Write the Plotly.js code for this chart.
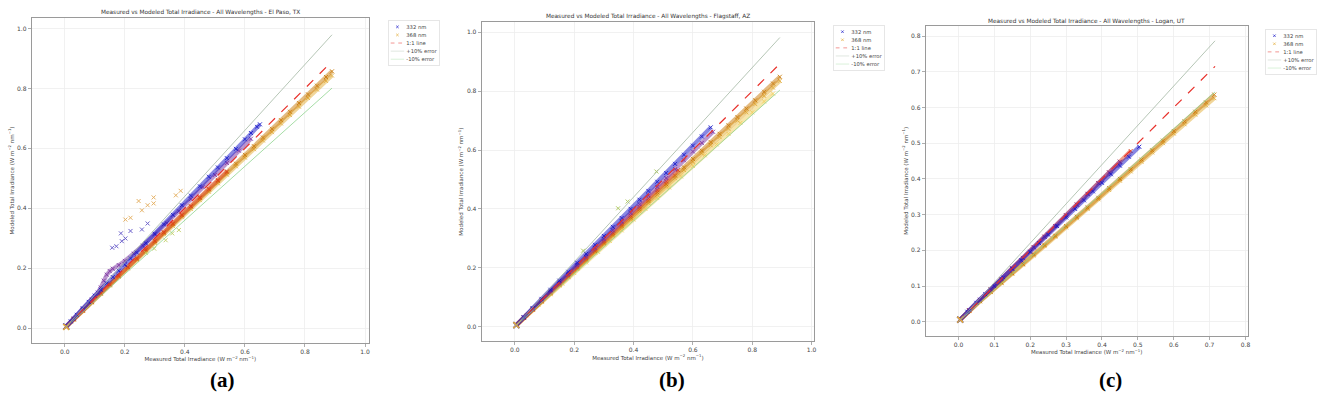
<!DOCTYPE html>
<html>
<head>
<meta charset="utf-8">
<script src="https://cdn.plot.ly/plotly-3.0.1.min.js"></script>
<style>html,body{margin:0;padding:0;background:#fff;}#chart{width:1321px;height:402px;}</style>
</head>
<body>
<div id="chart"></div>
<script>
// ---------------- Data ----------------
const panelTitles = [
  "Measured vs Modeled Total Irradiance - All Wavelengths - El Paso, TX",
  "Measured vs Modeled Total Irradiance - All Wavelengths - Flagstaff, AZ",
  "Measured vs Modeled Total Irradiance - All Wavelengths - Logan, UT"
];
const panelLabels = ["(a)", "(b)", "(c)"];
const seriesNames = ["332 nm", "340 nm", "350 nm", "360 nm", "368 nm"];
const lineNames = ["1:1 line", "+10% error", "-10% error"];

// Panel (a) El Paso
const A_x332 = [0.005,0.02,0.04,0.06,0.08,0.10,0.12,0.14,0.16,0.18,0.20,0.22,0.24,0.27,0.30,0.33,0.36,0.39,0.42,0.45,0.48,0.51,0.54,0.57,0.60,0.62,0.64,0.65];
const A_y332 = [0.005,0.022,0.044,0.066,0.087,0.108,0.128,0.149,0.170,0.191,0.211,0.232,0.252,0.283,0.315,0.346,0.378,0.410,0.442,0.473,0.505,0.536,0.567,0.598,0.630,0.651,0.672,0.680];
const A_x340 = [0.005,0.03,0.06,0.09,0.11,0.12,0.13,0.14,0.15,0.16,0.18,0.20,0.23,0.26,0.30,0.34,0.38,0.42,0.46,0.50,0.54,0.58,0.62];
const A_y340 = [0.005,0.032,0.063,0.095,0.118,0.135,0.158,0.178,0.190,0.198,0.210,0.224,0.248,0.275,0.312,0.350,0.390,0.430,0.470,0.511,0.551,0.592,0.632];
const A_x350 = [0.005,0.03,0.06,0.09,0.12,0.15,0.18,0.21,0.24,0.27,0.30,0.33,0.36,0.39,0.42,0.45,0.48,0.51,0.54];
const A_y350 = [0.005,0.030,0.059,0.088,0.117,0.146,0.175,0.204,0.233,0.262,0.291,0.320,0.349,0.378,0.407,0.436,0.465,0.494,0.523];
const A_x360 = [0.005,0.03,0.06,0.09,0.12,0.15,0.18,0.21,0.24,0.27,0.30,0.33,0.36,0.39,0.42,0.45,0.48,0.51,0.54,0.57,0.60,0.63,0.66,0.69,0.72,0.75,0.78,0.81,0.84,0.87,0.89];
const A_y360 = [0.005,0.029,0.058,0.087,0.116,0.145,0.174,0.203,0.231,0.260,0.289,0.318,0.347,0.376,0.405,0.434,0.462,0.491,0.520,0.549,0.578,0.607,0.636,0.665,0.694,0.722,0.751,0.780,0.809,0.838,0.857];
const A_x368 = [0.005,0.03,0.06,0.09,0.12,0.15,0.18,0.21,0.24,0.27,0.30,0.33,0.36,0.39,0.42,0.45,0.48,0.51,0.54,0.57,0.60,0.63,0.66,0.69,0.72,0.75,0.78,0.81,0.84,0.87,0.89];
const A_y368 = [0.004,0.028,0.057,0.085,0.114,0.142,0.171,0.199,0.227,0.256,0.284,0.313,0.341,0.370,0.398,0.427,0.455,0.483,0.512,0.540,0.569,0.597,0.626,0.654,0.683,0.711,0.739,0.768,0.796,0.825,0.843];
const A_outBlueX = [0.158,0.172,0.187,0.190,0.202,0.219,0.257,0.276];
const A_outBlueY = [0.268,0.273,0.316,0.290,0.299,0.324,0.329,0.349];
const A_outOrangeX = [0.202,0.219,0.246,0.257,0.276,0.296,0.296,0.370,0.386];
const A_outOrangeY = [0.362,0.368,0.424,0.393,0.410,0.416,0.436,0.443,0.458];
const A_outYellowX = [0.270,0.298,0.336,0.358,0.380];
const A_outYellowY = [0.251,0.265,0.293,0.316,0.327];
const A_refX = [0.0, 0.89];

// Panel (b) Flagstaff
const B_x332 = [0.005,0.03,0.06,0.09,0.12,0.15,0.18,0.21,0.24,0.27,0.30,0.33,0.36,0.39,0.42,0.45,0.48,0.51,0.54,0.57,0.60,0.63,0.66];
const B_y332 = [0.005,0.032,0.063,0.094,0.125,0.156,0.186,0.217,0.247,0.278,0.308,0.339,0.369,0.400,0.431,0.461,0.492,0.522,0.553,0.584,0.615,0.646,0.677];
const B_x340 = [0.005,0.03,0.06,0.09,0.12,0.15,0.18,0.21,0.24,0.27,0.30,0.33,0.36,0.39,0.42,0.45,0.48,0.51,0.54,0.57,0.60,0.63,0.668];
const B_y340 = [0.005,0.031,0.061,0.091,0.121,0.150,0.179,0.209,0.238,0.268,0.297,0.327,0.356,0.386,0.416,0.446,0.475,0.505,0.535,0.565,0.595,0.624,0.662];
const B_x350 = [0.005,0.03,0.06,0.09,0.12,0.15,0.18,0.21,0.24,0.27,0.30,0.33,0.36,0.39,0.42,0.45,0.48,0.51,0.55];
const B_y350 = [0.005,0.030,0.059,0.088,0.117,0.146,0.175,0.204,0.233,0.262,0.290,0.319,0.348,0.377,0.406,0.435,0.464,0.493,0.532];
const B_x360 = [0.005,0.03,0.06,0.09,0.12,0.15,0.18,0.21,0.24,0.27,0.30,0.33,0.36,0.39,0.42,0.45,0.48,0.51,0.54,0.57,0.60,0.63,0.66,0.69,0.72,0.75,0.78,0.81,0.84,0.87,0.893];
const B_y360 = [0.005,0.030,0.058,0.086,0.115,0.143,0.171,0.200,0.228,0.257,0.285,0.313,0.342,0.370,0.399,0.427,0.456,0.484,0.513,0.541,0.570,0.598,0.627,0.655,0.684,0.712,0.741,0.769,0.798,0.826,0.849];
const B_x368 = [0.005,0.03,0.06,0.09,0.12,0.15,0.18,0.21,0.24,0.27,0.30,0.33,0.36,0.39,0.42,0.45,0.48,0.51,0.54,0.57,0.60,0.63,0.66,0.69,0.72,0.75,0.78,0.81,0.84,0.87,0.893];
const B_y368 = [0.005,0.029,0.057,0.084,0.112,0.140,0.168,0.196,0.224,0.252,0.280,0.308,0.336,0.364,0.392,0.420,0.448,0.476,0.504,0.532,0.560,0.588,0.616,0.644,0.672,0.700,0.728,0.756,0.784,0.812,0.835];
const B_xLight = [0.005,0.04,0.08,0.12,0.16,0.20,0.24,0.28,0.32,0.36,0.40,0.44,0.48,0.52,0.56,0.60,0.64,0.68,0.72,0.76,0.80,0.84,0.87];
const B_yLight = [0.005,0.038,0.074,0.110,0.146,0.182,0.218,0.254,0.291,0.327,0.364,0.400,0.437,0.473,0.510,0.546,0.582,0.619,0.655,0.692,0.728,0.765,0.792];
const B_outX = [0.230,0.348,0.380,0.477];
const B_outY = [0.258,0.402,0.425,0.527];
const B_refX = [0.0, 0.893];

// Panel (c) Logan
const C_x332 = [0.005,0.025,0.05,0.075,0.10,0.125,0.15,0.175,0.20,0.225,0.25,0.275,0.30,0.325,0.35,0.375,0.40,0.425,0.45,0.475,0.504];
const C_y332 = [0.006,0.028,0.053,0.077,0.100,0.124,0.148,0.172,0.196,0.220,0.244,0.268,0.292,0.316,0.340,0.365,0.389,0.413,0.437,0.462,0.490];
const C_x340 = [0.005,0.03,0.06,0.09,0.12,0.15,0.18,0.21,0.24,0.27,0.30,0.33,0.36,0.39,0.42,0.45];
const C_y340 = [0.006,0.033,0.062,0.091,0.120,0.150,0.179,0.209,0.238,0.268,0.298,0.328,0.358,0.388,0.418,0.448];
const C_x350 = [0.005,0.03,0.06,0.09,0.12,0.15,0.18,0.21,0.24,0.27,0.30,0.33,0.36,0.39,0.42,0.45,0.48];
const C_y350 = [0.006,0.032,0.061,0.090,0.119,0.149,0.178,0.208,0.238,0.268,0.298,0.328,0.358,0.388,0.418,0.448,0.478];
const C_x360 = [0.005,0.03,0.06,0.09,0.12,0.15,0.18,0.21,0.24,0.27,0.30,0.33,0.36,0.39,0.42,0.45,0.48,0.51,0.54,0.57,0.60,0.63,0.66,0.69,0.713];
const C_y360 = [0.006,0.031,0.058,0.084,0.110,0.136,0.162,0.189,0.215,0.241,0.268,0.294,0.320,0.347,0.374,0.400,0.427,0.454,0.480,0.507,0.534,0.561,0.588,0.614,0.636];
const C_x368 = [0.005,0.03,0.06,0.09,0.12,0.15,0.18,0.21,0.24,0.27,0.30,0.33,0.36,0.39,0.42,0.45,0.48,0.51,0.54,0.57,0.60,0.63,0.66,0.69,0.713];
const C_y368 = [0.006,0.030,0.057,0.083,0.108,0.134,0.160,0.186,0.212,0.238,0.264,0.290,0.316,0.343,0.369,0.395,0.421,0.448,0.474,0.500,0.527,0.553,0.580,0.606,0.626];
const C_refX = [0.0, 0.715];

// ---------------- Styling ----------------
const colors = {b332:'#1414c8', b340:'#7a2fa0', b350:'#e0401c', b360:'#c97a08', b368:'#e3ad3a', light:'#f0cd5a', outGreen:'#9fbf40'};
const FONT = 'DejaVu Sans, sans-serif';
const LEGEND_SCALE = 0.42;
const traces = [];

function band(x, y, color, ax, name, legendId, showLeg, sym) {
  const xa = 'x' + ax, ya = 'y' + ax;
  traces.push({type:'scatter', mode:'lines', x:x, y:y, xaxis:xa, yaxis:ya,
    line:{color:color, width:4.2}, opacity:0.5, showlegend:false, hoverinfo:'skip', legend:legendId});
  traces.push({type:'scatter', mode:'markers', x:x, y:y, xaxis:xa, yaxis:ya, name:name,
    marker:{color:color, size:4, symbol:sym || 'x-thin-open', line:{color:color, width:1}},
    opacity:0.85, showlegend:showLeg, legend:legendId});
}
function scatterOnly(x, y, color, ax, legendId) {
  traces.push({type:'scatter', mode:'markers', x:x, y:y, xaxis:'x'+ax, yaxis:'y'+ax,
    marker:{color:color, size:4, symbol:'x-thin-open', line:{color:color, width:1}},
    opacity:0.8, showlegend:false, legend:legendId});
}
function refLines(refX, ax, legendId) {
  const xa = 'x' + ax, ya = 'y' + ax;
  traces.push({type:'scatter', mode:'lines', x:refX, y:refX, xaxis:xa, yaxis:ya, name:lineNames[0],
    line:{color:'#e8302a', width:1.2, dash:'dash'}, legend:legendId, legendrank:3});
  traces.push({type:'scatter', mode:'lines', x:refX, y:refX.map(v=>v*1.1), xaxis:xa, yaxis:ya, name:lineNames[1],
    line:{color:'#a3b8a3', width:0.8}, legend:legendId, legendrank:4});
  traces.push({type:'scatter', mode:'lines', x:refX, y:refX.map(v=>v*0.9), xaxis:xa, yaxis:ya, name:lineNames[2],
    line:{color:'#8fd48f', width:0.8}, legend:legendId, legendrank:5});
}

// Panel a
band(A_x368, A_y368, colors.b368, '', seriesNames[4], 'legend', false);
band(A_x360, A_y360, colors.b360, '', seriesNames[3], 'legend', false);
band(A_x350, A_y350, colors.b350, '', seriesNames[2], 'legend', false);
band(A_x340, A_y340, colors.b340, '', seriesNames[1], 'legend', false);
band(A_x332, A_y332, colors.b332, '', seriesNames[0], 'legend', false);
scatterOnly(A_outBlueX, A_outBlueY, '#4a3cc0', '', 'legend');
scatterOnly(A_outOrangeX, A_outOrangeY, '#e0a040', '', 'legend');
scatterOnly(A_outYellowX, A_outYellowY, '#b8c850', '', 'legend');
// Panel b
band(B_xLight, B_yLight, colors.light, '2', 'light', 'legend2', false);
band(B_x368, B_y368, colors.b368, '2', seriesNames[4], 'legend2', false);
band(B_x360, B_y360, colors.b360, '2', seriesNames[3], 'legend2', false);
band(B_x350, B_y350, colors.b350, '2', seriesNames[2], 'legend2', false);
band(B_x340, B_y340, colors.b340, '2', seriesNames[1], 'legend2', false);
band(B_x332, B_y332, colors.b332, '2', seriesNames[0], 'legend2', false);
scatterOnly(B_outX, B_outY, colors.outGreen, '2', 'legend2');
// Panel c
band(C_x368, C_y368, colors.b368, '3', seriesNames[4], 'legend3', false);
band(C_x360, C_y360, colors.b360, '3', seriesNames[3], 'legend3', false);
band(C_x350, C_y350, colors.b350, '3', seriesNames[2], 'legend3', false);
band(C_x340, C_y340, colors.b340, '3', seriesNames[1], 'legend3', false);
band(C_x332, C_y332, colors.b332, '3', seriesNames[0], 'legend3', false);

// Legend entries (first and last wavelength), drawn from the same arrays
function legendMarker(x, y, color, ax, name, legendId, rank) {
  traces.push({type:'scatter', mode:'markers', x:[x[0]], y:[y[0]], xaxis:'x'+ax, yaxis:'y'+ax, name:name,
    marker:{color:color, size:6, symbol:'x-thin-open', line:{color:color, width:1.6}}, legend:legendId, legendrank:rank});
}
legendMarker(A_x332, A_y332, colors.b332, '', seriesNames[0], 'legend', 1);
legendMarker(A_x368, A_y368, colors.b368, '', seriesNames[4], 'legend', 2);
legendMarker(B_x332, B_y332, colors.b332, '2', seriesNames[0], 'legend2', 1);
legendMarker(B_x368, B_y368, colors.b368, '2', seriesNames[4], 'legend2', 2);
legendMarker(C_x332, C_y332, colors.b332, '3', seriesNames[0], 'legend3', 1);
legendMarker(C_x368, C_y368, colors.b368, '3', seriesNames[4], 'legend3', 2);

refLines(A_refX, '', 'legend');
refLines(B_refX, '2', 'legend2');
refLines(C_refX, '3', 'legend3');

const xTitle = 'Measured Total Irradiance (W m<sup>−2</sup> nm<sup>−1</sup>)';
const yTitle = 'Modeled Total Irradiance (W m<sup>−2</sup> nm<sup>−1</sup>)';

function axis(domain, range, dtick, anchor, title) {
  return {domain:domain, range:range, dtick:dtick, tick0:0, anchor:anchor, tickformat:'.1f',
    showline:true, mirror:true, linecolor:'#9a9a9a', linewidth:1,
    ticks:'outside', ticklen:3, tickcolor:'#9a9a9a', tickwidth:0.8,
    tickfont:{size:6, color:'#444', family:FONT},
    showgrid:true, gridcolor:'#ededed', gridwidth:0.8, zeroline:false,
    title:{text:title, font:{size:5.5, color:'#444', family:FONT}, standoff:2},
    automargin:false};
}

const legendBase = {bgcolor:'rgba(255,255,255,0.9)', bordercolor:'#d8d8d8', borderwidth:1.5,
  font:{size:12.5, color:'#444', family:FONT}, xanchor:'left', yanchor:'top', itemwidth:32, tracegroupgap:0};

const annFont = {family:FONT, size:5.8, color:'#333'};
const labelFont = {family:'Liberation Serif, serif', size:21, color:'#000'};
const layout = {
  width:1321, height:402, margin:{l:0, r:0, t:0, b:0, autoexpand:false},
  paper_bgcolor:'#fff', plot_bgcolor:'#fff', showlegend:true,
  xaxis: axis([0.0240,0.2793], [-0.11,1.013], 0.2, 'y', xTitle),
  yaxis: axis([0.1468,0.9552], [-0.05,1.035], 0.2, 'x', yTitle),
  xaxis2: axis([0.3646,0.6164], [-0.112,1.009], 0.2, 'y2', xTitle),
  yaxis2: axis([0.1517,0.9445], [-0.049,1.034], 0.2, 'x2', yTitle),
  xaxis3: axis([0.7008,0.9445], [-0.091,0.806], 0.1, 'y3', xTitle),
  yaxis3: axis([0.1649,0.9353], [-0.039,0.828], 0.1, 'x3', yTitle),
  legend: Object.assign({x:0.2937, y:0.950}, legendBase),
  legend2: Object.assign({x:0.6306, y:0.938}, legendBase),
  legend3: Object.assign({x:0.9576, y:0.928}, legendBase),
  annotations: [
    {text:panelTitles[0], x:0.1515, y:0.9677, xref:'paper', yref:'paper', showarrow:false, font:annFont, xanchor:'center', yanchor:'middle'},
    {text:panelTitles[1], x:0.4905, y:0.9585, xref:'paper', yref:'paper', showarrow:false, font:annFont, xanchor:'center', yanchor:'middle'},
    {text:panelTitles[2], x:0.8226, y:0.9460, xref:'paper', yref:'paper', showarrow:false, font:annFont, xanchor:'center', yanchor:'middle'},
    {text:'<b>'+panelLabels[0]+'</b>', x:0.1688, y:0.0547, xref:'paper', yref:'paper', showarrow:false, font:labelFont, xanchor:'center', yanchor:'middle'},
    {text:'<b>'+panelLabels[1]+'</b>', x:0.5085, y:0.0547, xref:'paper', yref:'paper', showarrow:false, font:labelFont, xanchor:'center', yanchor:'middle'},
    {text:'<b>'+panelLabels[2]+'</b>', x:0.8403, y:0.0547, xref:'paper', yref:'paper', showarrow:false, font:labelFont, xanchor:'center', yanchor:'middle'}
  ]
};

Plotly.newPlot('chart', traces, layout, {displayModeBar:false, staticPlot:true}).then(function(gd){
  // shrink the three legends to the compact matplotlib-like size
  gd.querySelectorAll('g.legend, g.legend2, g.legend3').forEach(function(g){
    const t = g.getAttribute('transform') || '';
    g.setAttribute('transform', t + ' scale(' + LEGEND_SCALE + ')');
  });
});
</script>
</body>
</html>
